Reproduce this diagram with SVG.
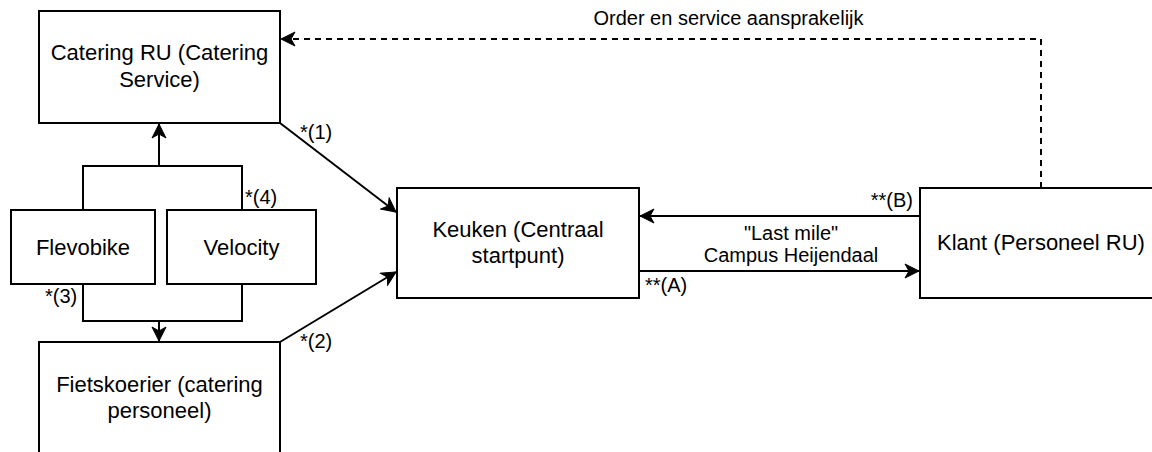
<svg xmlns="http://www.w3.org/2000/svg" width="1152" height="452" viewBox="0 0 1152 452">
<style>
.box{fill:#fff;stroke:#000;stroke-width:2}
.nt{font-family:"Liberation Sans",Arial,sans-serif;font-size:22px;fill:#000;text-anchor:middle}
.lt{font-family:"Liberation Sans",Arial,sans-serif;font-size:20px;fill:#000}
.ln{fill:none;stroke:#000;stroke-width:2}
.dash{stroke-dasharray:6 5}
</style>
<defs>
<marker id="arr" markerUnits="userSpaceOnUse" viewBox="-15 -8 16 16" refX="0" refY="0" markerWidth="16" markerHeight="16" orient="auto">
<path d="M0,0 L-14,-7 L-10,0 L-14,7 Z" fill="#000" stroke="#000" stroke-width="1"/>
</marker>
</defs>
<rect width="1152" height="452" fill="#fff"/>
<g id="connectors">
<path class="ln" d="M83,210 V166 H242 V210" />
<path class="ln" d="M159,166 V124" marker-end="url(#arr)"/>
<path class="ln" d="M83,284 V321 H242 V284" />
<path class="ln" d="M159,321 V341" marker-end="url(#arr)"/>
<path class="ln" d="M280,123 L396,212" marker-end="url(#arr)"/>
<path class="ln" d="M280,342 L396,272" marker-end="url(#arr)"/>
<path class="ln" d="M920,216 H640" marker-end="url(#arr)"/>
<path class="ln" d="M639,271 H919" marker-end="url(#arr)"/>
<path class="ln dash" d="M1041,188 V39 H281" marker-end="url(#arr)"/>
<text class="lt" x="728.5" y="25" text-anchor="middle">Order en service aansprakelijk</text>
<text class="lt" x="300" y="139">*(1)</text>
<text class="lt" x="245" y="204">*(4)</text>
<text class="lt" x="45" y="303">*(3)</text>
<text class="lt" x="300" y="348">*(2)</text>
<text class="lt" x="645" y="292">**(A)</text>
<text class="lt" x="913" y="207" text-anchor="end">**(B)</text>
<text class="lt" x="791" y="240" text-anchor="middle">"Last mile"</text>
<text class="lt" x="791" y="262" text-anchor="middle">Campus Heijendaal</text>
</g>
<g id="catering">
<rect class="box" x="39" y="11" width="241" height="112"/>
<text class="nt" x="159.5" y="60">Catering RU (Catering</text>
<text class="nt" x="159.5" y="87">Service)</text>
</g>
<g id="flevobike">
<rect class="box" x="11" y="210" width="144" height="74"/>
<text class="nt" x="83" y="255">Flevobike</text>
</g>
<g id="velocity">
<rect class="box" x="167" y="210" width="149" height="74"/>
<text class="nt" x="241.5" y="255">Velocity</text>
</g>
<g id="fietskoerier">
<rect class="box" x="39" y="342" width="241" height="112"/>
<text class="nt" x="159.5" y="392">Fietskoerier (catering</text>
<text class="nt" x="159.5" y="418">personeel)</text>
</g>
<g id="keuken">
<rect class="box" x="397" y="188" width="242" height="110"/>
<text class="nt" x="518" y="237">Keuken (Centraal</text>
<text class="nt" x="518" y="263">startpunt)</text>
</g>
<g id="klant">
<rect class="box" x="920" y="188" width="242" height="110"/>
<text class="nt" x="1041" y="250">Klant (Personeel RU)</text>
</g>
</svg>
